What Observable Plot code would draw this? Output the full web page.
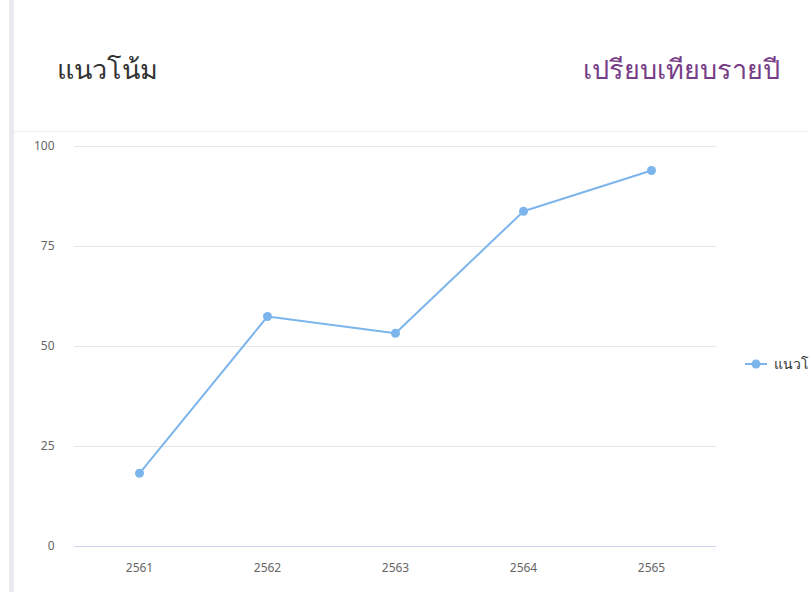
<!DOCTYPE html>
<html>
<head>
<meta charset="utf-8">
<script src="https://cdn.jsdelivr.net/npm/d3@7"></script>
<script src="https://cdn.jsdelivr.net/npm/@observablehq/plot@0.6"></script>
<style>
  html, body { margin: 0; padding: 0; background: #fff; width: 809px; height: 592px; overflow: hidden; }
  body { position: relative; font-family: "Noto Sans", "DejaVu Sans", sans-serif; }
  #bar { position: absolute; left: 9px; top: 0; width: 5px; height: 592px; background: #e8eaf0; }
  #title { position: absolute; left: 57px; top: 48px; font-size: 27px; color: #333; white-space: nowrap; font-weight: 300; }
  #subtitle { position: absolute; right: 29px; top: 48px; font-size: 27px; color: #773d86; white-space: nowrap; font-weight: 300; }
  #sep { position: absolute; left: 14px; top: 131px; width: 795px; height: 1px; background: #eceef2; }
  #chart { position: absolute; left: 14px; top: 133px; }
  #legend { position: absolute; left: 745px; top: 353px; font-size: 14px; color: #333; white-space: nowrap; display: flex; align-items: center; }
</style>
</head>
<body>
<div id="bar"></div>
<div id="title"></div>
<div id="subtitle"></div>
<div id="sep"></div>
<div id="chart"></div>
<div id="legend"></div>
<script>
const titleText = "แนวโน้ม";
const subtitleText = "เปรียบเทียบรายปี";
const seriesName = "แนวโน้ม";
const years = ["2561", "2562", "2563", "2564", "2565"];
const values = [18.3, 57.5, 53.3, 83.8, 94];
const yTicks = [0, 25, 50, 75, 100];

document.getElementById("title").textContent = titleText;
document.getElementById("subtitle").textContent = subtitleText;

const data = years.map((y, i) => ({year: y, value: values[i]}));
const color = "#7cb5ec";

const chart = Plot.plot({
  width: 795,
  height: 459,
  marginTop: 13,
  marginBottom: 46,
  marginLeft: 60,
  marginRight: 93,
  style: {fontFamily: "'Noto Sans', 'DejaVu Sans', sans-serif", fontSize: "12px", color: "#666", background: "transparent"},
  x: {type: "point", domain: years, padding: 0.5, label: null, tickSize: 0, tickPadding: 17},
  y: {domain: [0, 100], ticks: yTicks, label: null, tickSize: 0, tickPadding: 20},
  marks: [
    Plot.ruleY(yTicks.filter(d => d > 0), {stroke: "#e6e6e6", strokeWidth: 1}),
    Plot.ruleY([0], {stroke: "#ccd6eb", strokeWidth: 1}),
    Plot.line(data, {x: "year", y: "value", stroke: color, strokeWidth: 2}),
    Plot.dot(data, {x: "year", y: "value", fill: color, r: 4.5, stroke: null})
  ]
});
document.getElementById("chart").appendChild(chart);

const leg = document.getElementById("legend");
leg.innerHTML = `<svg width="24" height="12" style="margin-right:5px"><line x1="0" y1="6" x2="22" y2="6" stroke="${color}" stroke-width="2"/><circle cx="11" cy="6" r="4.5" fill="${color}"/></svg><span></span>`;
leg.querySelector("span").textContent = seriesName;
</script>
</body>
</html>
